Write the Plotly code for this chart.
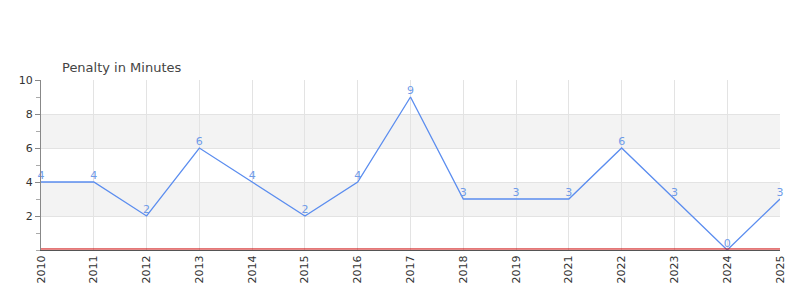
import plotly.graph_objects as go

years = ["2010","2011","2012","2013","2014","2015","2016","2017","2018","2019","2021","2022","2023","2024","2025"]
penalty = [4, 4, 2, 6, 4, 2, 4, 9, 3, 3, 3, 6, 3, 0, 3]
y_ticks = [2, 4, 6, 8, 10]
bands = [(2, 4), (6, 8)]

fig = go.Figure()
fig.add_trace(go.Scatter(
    x=years, y=penalty, mode="lines+text",
    text=[str(v) for v in penalty], textposition="top center",
    textfont=dict(family="DejaVu Sans", size=11, color="#6f9be8"),
    line=dict(color="#5b8def", width=1.3),
    cliponaxis=False, hoverinfo="x+y", showlegend=False,
))

shapes = []
for lo, hi in bands:
    shapes.append(dict(type="rect", xref="paper", yref="y", x0=0, x1=1, y0=lo, y1=hi,
                       fillcolor="#f3f3f3", line=dict(width=0), layer="below"))
shapes.append(dict(type="line", xref="paper", yref="paper", x0=0, x1=1, y0=0.006, y1=0.006,
                   line=dict(color="#cc0000", width=1), layer="above"))

fig.update_layout(
    width=800, height=300,
    margin=dict(l=41, r=20, t=80, b=50),
    paper_bgcolor="white", plot_bgcolor="white",
    shapes=shapes,
    title=dict(text="Penalty in Minutes", x=62/800, xanchor="left", y=1-67/300, yanchor="middle",
               font=dict(family="DejaVu Sans", size=13, color="#444")),
    font=dict(family="DejaVu Sans", size=11, color="#333"),
    xaxis=dict(type="category", range=[0, len(years)-1], tickangle=-90,
               showgrid=True, gridcolor="#e3e3e3", gridwidth=1,
               showline=True, linecolor="#555", linewidth=1,
               ticks="outside", ticklen=0, tickfont=dict(size=11, color="#333"), zeroline=False),
    yaxis=dict(range=[0, 10], tickvals=y_ticks, showgrid=True, gridcolor="#e3e3e3", gridwidth=1,
               showline=True, linecolor="#888", linewidth=1, zeroline=False,
               ticks="outside", ticklen=5, tickcolor="#888",
               minor=dict(dtick=1, ticks="outside", ticklen=4, tickcolor="#aaa", showgrid=False),
               tickfont=dict(size=11, color="#333")),
)

fig.write_html("out.html")
